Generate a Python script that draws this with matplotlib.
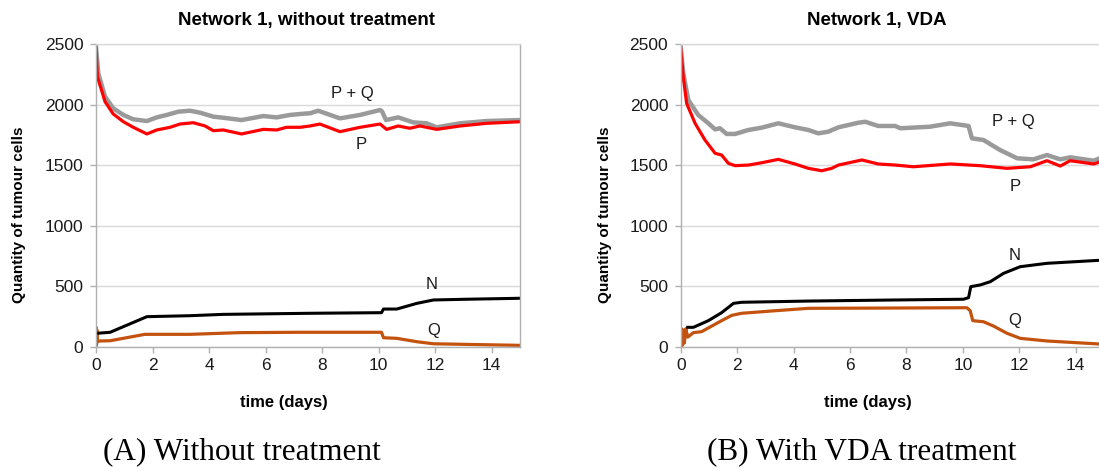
import matplotlib
matplotlib.use("Agg")
import matplotlib.pyplot as plt

# ---------------- data ----------------
# Panel A: Network 1, without treatment
a_t_pq = [0, 0.08, 0.32, 0.61, 0.97, 1.32, 1.8, 2.15, 2.5, 2.91, 3.32, 3.68, 4.15, 4.5, 5.15, 5.92,
          6.39, 6.86, 7.22, 7.57, 7.86, 8.63, 9.34, 10.05, 10.12, 10.26, 10.69, 11.22, 11.7, 12.05,
          12.88, 13.82, 15]
a_pq = [2480, 2260, 2067, 1971, 1916, 1880, 1866, 1896, 1916, 1943, 1951, 1935, 1902, 1893, 1874, 1907,
        1896, 1916, 1924, 1930, 1951, 1888, 1916, 1957, 1945, 1874, 1896, 1855, 1847, 1814,
        1847, 1866, 1874]
a_t_p = [0, 0.05, 0.32, 0.61, 0.97, 1.32, 1.8, 2.15, 2.62, 2.97, 3.44, 3.86, 4.15, 4.5, 5.15, 5.92,
         6.39, 6.74, 7.22, 7.57, 7.92, 8.63, 9.34, 10.05, 10.28, 10.69, 11.1, 11.46, 12.05, 12.88,
         13.82, 15]
a_p = [2470, 2232, 2026, 1924, 1860, 1814, 1759, 1792, 1814, 1841, 1852, 1825, 1786, 1792, 1759, 1797,
       1792, 1814, 1814, 1825, 1841, 1778, 1814, 1841, 1797, 1825, 1806, 1825, 1797, 1825,
       1847, 1860]
a_t_n = [0, 0.5, 1.8, 3.32, 4.5, 7.57, 10.1, 10.17, 10.64, 11.35, 11.94, 13.1, 15]
a_n = [111, 120, 249, 257, 268, 277, 282, 312, 312, 359, 387, 393, 401]
a_t_q = [0, 0.01, 0.02, 0.03, 0.05, 0.14, 0.5, 1.73, 3.32, 5.09, 7.22, 10.1, 10.17, 10.64, 11.35,
         11.94, 13.1, 15]
a_q = [0, 160, 20, 140, 45, 48, 50, 103, 103, 117, 120, 120, 75, 70, 42, 25, 20, 12]

# Panel B: Network 1, VDA
b_t_pq = [0, 0.09, 0.27, 0.62, 0.98, 1.22, 1.39, 1.63, 1.93, 2.4, 2.87, 3.46, 4.05, 4.52, 4.88, 5.23,
          5.59, 6.3, 6.54, 7.0, 7.6, 7.78, 8.84, 9.55, 10.2, 10.32, 10.73, 11.32, 11.92, 12.5, 12.98,
          13.45, 13.8, 14.63, 15]
b_pq = [2475, 2260, 2040, 1916, 1847, 1797, 1806, 1759, 1759, 1792, 1811, 1847, 1814, 1792, 1764, 1778,
        1814, 1852, 1860, 1825, 1825, 1806, 1819, 1847, 1825, 1723, 1709, 1626, 1558, 1549, 1585,
        1549, 1566, 1538, 1571]
b_t_p = [0, 0.09, 0.21, 0.51, 0.86, 1.22, 1.45, 1.69, 1.93, 2.4, 2.87, 3.46, 4.05, 4.52, 5.0, 5.35,
         5.59, 6.42, 7.0, 7.6, 8.25, 9.55, 10.6, 11.56, 12.39, 12.98, 13.45, 13.8, 14.63, 15]
b_p = [2470, 2232, 2012, 1847, 1709, 1599, 1585, 1516, 1497, 1502, 1521, 1549, 1511, 1475, 1455, 1475,
       1502, 1544, 1511, 1502, 1488, 1511, 1497, 1475, 1488, 1538, 1494, 1538, 1511, 1538]
b_t_n = [0.25, 0.45, 0.98, 1.45, 1.87, 2.16, 4.52, 7.6, 10.02, 10.2, 10.28, 10.61, 10.97, 11.44,
         12.03, 12.98, 15]
b_n = [161, 161, 216, 282, 359, 368, 378, 387, 393, 406, 497, 511, 538, 607, 662, 690, 717]
b_t_q = [0, 0.02, 0.05, 0.09, 0.13, 0.18, 0.25, 0.45, 0.74, 1.45, 1.81, 2.16, 3.34, 4.52, 7.07,
         10.14, 10.26, 10.35, 10.73, 11.08, 11.56, 12.03, 12.98, 15]
b_q = [0, 150, 10, 140, 30, 150, 80, 117, 125, 216, 260, 277, 298, 318, 320,
       323, 298, 216, 207, 172, 112, 70, 48, 21]

titles = ["Network 1, without treatment", "Network 1, VDA"]
captions = ["(A) Without treatment", "(B) With VDA treatment"]
ylabel = "Quantity of tumour cells"
xlabel = "time (days)"
xticks = [0, 2, 4, 6, 8, 10, 12, 14]
yticks = [0, 500, 1000, 1500, 2000, 2500]

# label positions (data coords) for the in-plot series names
a_labels = [("P + Q", 9.07, 2095), ("P", 9.37, 1668), ("N", 11.87, 511), ("Q", 11.93, 131)]
b_labels = [("P + Q", 11.8, 1860), ("P", 11.87, 1323), ("N", 11.83, 758), ("Q", 11.83, 221)]

# ---------------- figure ----------------
W, H = 1099, 468
fig = plt.figure(figsize=(W / 100, H / 100), dpi=100)
plt.rcParams['font.family'] = ['Liberation Sans', 'DejaVu Sans']

GRAY = "#9a9a9a"
RED = "#ff0000"
BLACK = "#000000"
ORANGE = "#c4520f"
GRID = "#d9d9d9"
SPINE = "#b0b0b0"


def px(x, y):
    return x / W, 1 - y / H


axA = fig.add_axes([96 / W, 1 - 346.8 / H, 424 / W, 302.5 / H])
axB = fig.add_axes([680.7 / W, 1 - 346.8 / H, 423.3 / W, 302.5 / H])

panels = [
    (axA, (a_t_pq, a_pq), (a_t_p, a_p), (a_t_n, a_n), (a_t_q, a_q), a_labels),
    (axB, (b_t_pq, b_pq), (b_t_p, b_p), (b_t_n, b_n), (b_t_q, b_q), b_labels),
]

for ax, pq, p, n, q, labels in panels:
    ax.set_xlim(0, 15)
    ax.set_ylim(0, 2500)
    ax.set_xticks(xticks)
    ax.set_yticks(yticks)
    ax.grid(axis='y', color=GRID, linewidth=1.0)
    ax.set_axisbelow(True)
    for s in ax.spines.values():
        s.set_color(SPINE)
        s.set_linewidth(1.0)
    ax.spines['top'].set_color(GRID)
    ax.tick_params(axis='both', colors=SPINE, labelcolor="#1a1a1a", labelsize=12.5,
                   length=4, width=1.0, direction='out')
    ax.tick_params(axis='y', pad=5)
    ax.tick_params(axis='x', pad=4)
    ax.plot(q[0], q[1], color=ORANGE, linewidth=2.3, solid_joinstyle='round')
    ax.plot(n[0], n[1], color=BLACK, linewidth=2.2, solid_joinstyle='round')
    ax.plot(pq[0], pq[1], color=GRAY, linewidth=3.2, solid_joinstyle='round')
    ax.plot(p[0], p[1], color=RED, linewidth=2.3, solid_joinstyle='round')
    for txt, tx, ty in labels:
        ax.text(tx, ty, txt, ha='center', va='center', fontsize=12, color="#1a1a1a")

# titles, axis labels, captions
for (tx, ty), t in zip([(306, 20), (877, 20)], titles):
    fig.text(*px(tx, ty), t, ha='center', va='center', fontsize=13.5, fontweight='bold')
for (lx, ly) in [(284, 403), (868, 403)]:
    fig.text(*px(lx, ly), xlabel, ha='center', va='center', fontsize=12, fontweight='bold')
for (lx, ly) in [(19, 215), (605, 215)]:
    fig.text(*px(lx, ly), ylabel, ha='center', va='center', fontsize=11, fontweight='bold',
             rotation=90)
for (cx, cy), c in zip([(242, 452), (862, 452)], captions):
    fig.text(*px(cx, cy), c, ha='center', va='center', fontsize=22.5,
             family=['Liberation Serif', 'DejaVu Serif'])

fig.savefig("out.png", dpi=100)
